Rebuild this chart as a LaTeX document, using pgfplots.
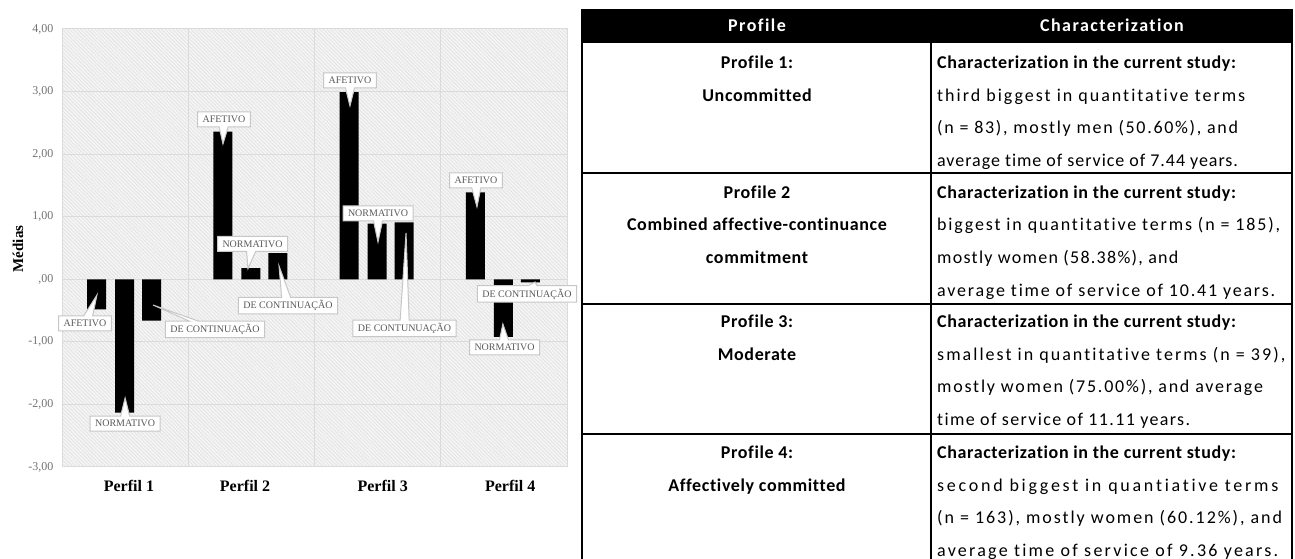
\documentclass[border=0pt]{standalone}
\usepackage{pgfplots}
\pgfplotsset{compat=1.18}
\usepackage{fontspec}
\setmainfont{Liberation Serif}
\newfontfamily\calzero{Carlito}[Ligatures=CommonOff]
\newfontfamily\calten{Carlito}[LetterSpace=10,Ligatures=CommonOff]
\newfontfamily\calbold{Carlito}[LetterSpace=3.5,Ligatures=CommonOff]
\newfontfamily\calhead{Carlito}[LetterSpace=8,Ligatures=CommonOff]
\usetikzlibrary{shapes.callouts,patterns.meta}
\newlength\wA \newlength\wB
\newcommand{\fitLS}[3]{%
  \settowidth\wA{\calzero\fontsize{18}{18}\selectfont #3}%
  \settowidth\wB{\calten\fontsize{18}{18}\selectfont #3}%
  \pgfmathsetmacro\tmpd{max(\wB-\wA,1)}%
  \pgfmathsetmacro\tmp{max(min(round(100*(#2-\wA)/\tmpd)/10,25),-5)}%
  \expandafter\xdef\csname ls#1\endcsname{\tmp}}
\newcommand{\RL}[3]{\node[anchor=base west, inner sep=0pt, font=\calzero\fontsize{18}{18}\selectfont] at (937pt,#1pt) {\addfontfeature{LetterSpace=\csname ls#2\endcsname}#3};}
\newcommand{\RB}[2]{\node[anchor=base west, inner sep=0pt, font=\calbold\bfseries\fontsize{18}{18}\selectfont] at (937pt,#1pt) {#2};}
\newcommand{\LB}[2]{\node[anchor=base, inner sep=0pt, font=\calbold\bfseries\fontsize{18}{18}\selectfont] at (757pt,#1pt) {#2};}
\begin{document}
\fitLS{a}{308}{third biggest in quantitative terms}%
\fitLS{b}{301}{(n = 83), mostly men (50.60\%), and}%
\fitLS{c}{301}{average time of service of 7.44 years.}%
\fitLS{d}{343}{biggest in quantitative terms (n = 185),}%
\fitLS{e}{241}{mostly women (58.38\%), and}%
\fitLS{f}{338}{average time of service of 10.41 years.}%
\fitLS{g}{348}{smallest in quantitative terms (n = 39),}%
\fitLS{h}{326}{mostly women (75.00\%), and average}%
\fitLS{i}{253}{time of service of 11.11 years.}%
\fitLS{j}{341}{second biggest in quantiative terms}%
\fitLS{k}{345}{(n = 163), mostly women (60.12\%), and}%
\fitLS{l}{341}{average time of service of 9.36 years.}%
\begin{tikzpicture}
\useasboundingbox (0,0) rectangle (1295pt,559pt);
\begin{axis}[
  at={(62pt,92pt)}, anchor=south west,
  scale only axis, width=505pt, height=438pt,
  xmin=0.5, xmax=4.5, ymin=-3, ymax=4,
  clip=false,
  ybar, bar width=19pt,
  xtick={1.03,1.95,3.04,4.05},
  xticklabels={Perfil 1,Perfil 2,Perfil 3,Perfil 4},
  minor xtick={1.5,2.5,3.5},
  ytick={-3,-2,-1,0,1,2,3,4},
  yticklabels={{-3,00},{-2,00},{-1,00},{,00},{1,00},{2,00},{3,00},{4,00}},
  ymajorgrids, xminorgrids,
  grid style={draw=black!14, line width=1pt},
  minor grid style={draw=black!14, line width=1pt},
  major tick length=0pt, minor tick length=0pt,
  axis line style={draw=black!14, line width=1pt},
  axis background/.style={fill=black!4, postaction={pattern={Lines[angle=-45,distance=2.6pt,line width=0.8pt]}, pattern color=black!11}},
  yticklabel style={font=\fontsize{12}{12}\selectfont, text=black!55, xshift=-5pt},
  xticklabel style={font=\fontsize{16}{16}\selectfont\bfseries, text=black, yshift=-10pt},
  ylabel={Médias},
  ylabel style={font=\fontsize{15}{15}\selectfont\bfseries, at={(axis description cs:-0.087,0.498)}, anchor=center},
]
\addplot[fill=black, draw=none, bar shift=-28.5pt] coordinates {(1,-0.48) (2,2.36) (3,2.99) (4,1.39)};
\addplot[fill=black, draw=none, bar shift=-0.5pt] coordinates {(1,-2.13) (2,0.18) (3,0.89) (4,-0.92)};
\addplot[fill=black, draw=none, bar shift=26.5pt] coordinates {(1,-0.66) (2,0.42) (3,0.91) (4,-0.05)};
\coordinate (b1) at (axis cs:0.682,-0.706);  \coordinate (t1) at (axis cs:0.777,-0.251);
\coordinate (b2) at (axis cs:1.0,-2.305);    \coordinate (t2) at (axis cs:1.0,-1.897);
\coordinate (b3) at (axis cs:1.712,-0.802);  \coordinate (t3) at (axis cs:1.221,-0.411);
\coordinate (b4) at (axis cs:1.783,2.554);   \coordinate (t4) at (axis cs:1.775,2.163);
\coordinate (b5) at (axis cs:2.009,0.564);   \coordinate (t5) at (axis cs:1.973,0.17);
\coordinate (b6) at (axis cs:2.290,-0.419);  \coordinate (t6) at (axis cs:2.219,0.213);
\coordinate (b7) at (axis cs:2.781,3.177);   \coordinate (t7) at (axis cs:2.781,2.770);
\coordinate (b8) at (axis cs:3.003,1.052);   \coordinate (t8) at (axis cs:3.003,0.596);
\coordinate (b9) at (axis cs:3.213,-0.786);  \coordinate (t9) at (axis cs:3.225,0.740);
\coordinate (b10) at (axis cs:3.779,1.579);  \coordinate (t10) at (axis cs:3.787,1.156);
\coordinate (b11) at (axis cs:4.005,-1.090); \coordinate (t11) at (axis cs:3.992,-0.714);
\coordinate (b12) at (axis cs:4.183,-0.235); \coordinate (t12) at (axis cs:4.247,-0.043);
\end{axis}
\tikzset{co/.style={rectangle callout, draw=black!22, fill=white, line width=1pt, text=black!65, font=\fontsize{10}{10}\selectfont, inner xsep=5pt, inner ysep=3pt, minimum height=15pt, callout pointer width=9pt}}
\node[co, callout absolute pointer={(t1)}] at (b1) {AFETIVO};
\node[co, callout absolute pointer={(t2)}] at (b2) {NORMATIVO};
\node[co, callout absolute pointer={(t3)}] at (b3) {DE CONTINUAÇÃO};
\node[co, callout absolute pointer={(t4)}] at (b4) {AFETIVO};
\node[co, callout absolute pointer={(t5)}] at (b5) {NORMATIVO};
\node[co, callout absolute pointer={(t6)}] at (b6) {DE CONTINUAÇÃO};
\node[co, callout absolute pointer={(t7)}] at (b7) {AFETIVO};
\node[co, callout absolute pointer={(t8)}] at (b8) {NORMATIVO};
\node[co, callout absolute pointer={(t9)}] at (b9) {DE CONTUNUAÇÃO};
\node[co, callout absolute pointer={(t10)}] at (b10) {AFETIVO};
\node[co, callout absolute pointer={(t11)}] at (b11) {NORMATIVO};
\node[co, callout absolute pointer={(t12)}] at (b12) {DE CONTINUAÇÃO};
% table
\fill[black] (582pt,516pt) rectangle (1292pt,550pt);
\draw[line width=1.5pt] (582pt,550pt) -- (582pt,-5pt);
\draw[line width=1.5pt] (931pt,550pt) -- (931pt,-5pt);
\draw[line width=1.5pt] (1292pt,550pt) -- (1292pt,-5pt);
\draw[line width=1.5pt] (582pt,386pt) -- (1292pt,386pt);
\draw[line width=1.5pt] (582pt,255pt) -- (1292pt,255pt);
\draw[line width=1.5pt] (582pt,125pt) -- (1292pt,125pt);
\node[anchor=base, inner sep=0pt, text=white, font=\calhead\bfseries\fontsize{18}{18}\selectfont] at (757pt,527.5pt) {Profile};
\node[anchor=base, inner sep=0pt, text=white, font=\calhead\bfseries\fontsize{18}{18}\selectfont] at (1112pt,527.5pt) {Characterization};
\LB{490.5}{Profile 1:}
\LB{457.5}{Uncommitted}
\LB{360.5}{Profile 2}
\LB{328.5}{Combined affective-continuance}
\LB{295.5}{commitment}
\LB{231.5}{Profile 3:}
\LB{198.5}{Moderate}
\LB{100.5}{Profile 4:}
\LB{67.5}{Affectively committed}
\RB{490.5}{Characterization in the current study:}
\RL{457.5}{a}{third biggest in quantitative terms}
\RL{425.5}{b}{(n = 83), mostly men (50.60\%), and}
\RL{392.5}{c}{average time of service of 7.44 years.}
\RB{360.5}{Characterization in the current study:}
\RL{328.5}{d}{biggest in quantitative terms (n = 185),}
\RL{295.5}{e}{mostly women (58.38\%), and}
\RL{262.5}{f}{average time of service of 10.41 years.}
\RB{231.5}{Characterization in the current study:}
\RL{198.5}{g}{smallest in quantitative terms (n = 39),}
\RL{166.5}{h}{mostly women (75.00\%), and average}
\RL{133.5}{i}{time of service of 11.11 years.}
\RB{100.5}{Characterization in the current study:}
\RL{67.5}{j}{second biggest in quantiative terms}
\RL{35.5}{k}{(n = 163), mostly women (60.12\%), and}
\RL{2.5}{l}{average time of service of 9.36 years.}
\end{tikzpicture}
\end{document}
